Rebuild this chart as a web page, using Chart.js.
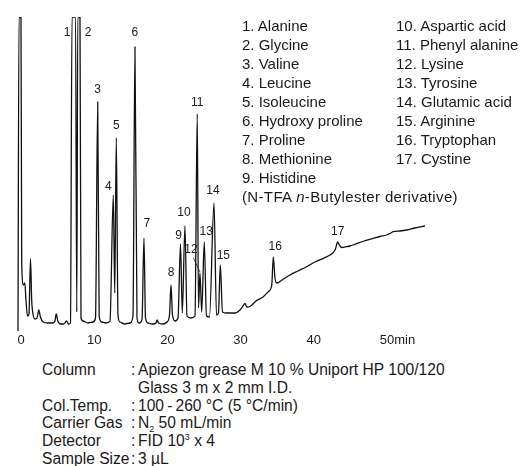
<!DOCTYPE html>
<html>
<head>
<meta charset="utf-8">
<script src="https://cdn.jsdelivr.net/npm/chart.js@4"></script>
<style>
  body { margin: 0; background: #fff; width: 522px; height: 466px; overflow: hidden; position: relative;
         font-family: "Liberation Sans", Arial, Helvetica, sans-serif; color: #1a1a1a; }
  #wrap { position: absolute; left: 0; top: 0; width: 522px; height: 352px; }
  #legend { position: absolute; left: 242px; top: 16px; font-size: 15px; line-height: 19px; white-space: nowrap; }
  #legend .col { position: absolute; top: 0; }
  #legend .note { letter-spacing: 0.35px; }
  #cond { position: absolute; left: 0; top: 361px; font-size: 15.6px; line-height: 17.8px; white-space: nowrap; }
  #cond .row { position: relative; height: 17.8px; }
  #cond span { position: absolute; top: 0; }
  sub, sup { font-size: 9px; line-height: 0; }
</style>
</head>
<body>
<div id="wrap"><canvas id="chrom" width="522" height="352"></canvas></div>
<div id="legend"></div>
<div id="cond"></div>
<script>
// retention time (min) and detector signal
const times = [-0.41, -0.27, 0.00, 0.10, 0.34, 0.52, 0.68, 0.89, 1.09, 1.30, 1.46, 1.64, 1.91, 2.19, 2.43, 2.66,
  3.01, 3.69, 4.37, 4.64, 4.82, 5.03, 5.46, 5.87, 6.22, 6.49, 6.76, 6.97, 7.45, 7.62, 7.76, 8.06, 8.20, 8.47,
  9.15, 9.84, 10.18, 10.48, 10.68, 11.00, 11.61, 12.16, 12.61, 12.81, 13.02, 13.25, 13.52, 14.21, 14.89, 15.30,
  15.57, 15.85, 16.12, 16.53, 16.80, 17.01, 17.35, 18.03, 18.44, 18.62, 18.78, 19.40, 19.95, 20.29, 20.49, 20.70,
  21.04, 21.45, 21.79, 22.04, 22.40, 22.68, 23.22, 23.77, 24.08, 24.25, 24.45, 24.69, 25.04, 25.34, 25.75, 26.37,
  26.71, 26.98, 27.23, 27.53, 28.01, 29.23, 29.92, 30.33, 30.60, 30.87, 31.28, 32.10, 33.06, 33.88, 34.26, 34.47,
  34.70, 34.93, 35.66, 36.75, 37.84, 39.03, 40.16, 41.30, 42.21, 42.66, 42.96, 43.26, 43.51, 43.81, 44.49, 44.95,
  45.63, 46.86, 48.13, 49.04, 49.96, 50.41, 50.86, 51.78, 52.69, 53.83, 55.19];
const signal = [-6, 308, 308, 62, 40, 42, 25, 9, 11, 66, 25, 11, 6, 7, 15, 8,
  3, 2, 2, 4, 11, 4, 1, 1, 4, 1, 2, 308, 308, 13, 308, 308, 7, 4,
  2, 3, 7, 223, 9, 3, 2, 4, 130, 32, 187, 10, 3, 1, 2, 9,
  278, 7, 2, 5, 87, 7, 2, 1, 2, 5, 2, 1, 3, 10, 40, 10,
  4, 7, 81, 12, 99, 9, 7, 9, 211, 17, 52, 13, 83, 9, 8, 122,
  10, 12, 60, 13, 12, 12, 15, 19, 21.5, 18, 18.5, 24, 28, 34, 40, 68,
  47, 42, 45, 50, 54, 58.3, 63, 66.7, 70, 72.3, 76, 83, 80, 77.5, 78.3, 79,
  80.7, 84, 86.7, 88.5, 90, 91.5, 93.3, 94, 95, 97, 99];

// numbered peaks: apex time and height
const peakNumbers = [1, 2, 3, 4, 5, 6, 7, 8, 9, 10, 11, 12, 13, 14, 15, 16, 17];
const peakTimes = [7.24, 7.92, 10.48, 12.61, 13.02, 15.57, 16.80, 20.49, 21.79, 22.40, 24.08, 24.45, 25.04, 26.37, 27.23, 34.47, 43.26];
const peakHeights = [308, 308, 223, 130, 187, 278, 87, 40, 81, 99, 211, 52, 83, 122, 60, 68, 83];

const compounds = ["Alanine", "Glycine", "Valine", "Leucine", "Isoleucine", "Hydroxy proline", "Proline",
  "Methionine", "Histidine", "Aspartic acid", "Phenyl alanine", "Lysine", "Tyrosine", "Glutamic acid",
  "Arginine", "Tryptophan", "Cystine"];

const condLabels = ["Column", "", "Col.Temp.", "Carrier Gas", "Detector", "Sample Size"];
const condValues = ["Apiezon grease M 10 % Uniport HP 100/120", "Glass 3 m x 2 mm I.D.",
  "100\u2009-\u2009260 \u00b0C (5 \u00b0C/min)", "N<sub>2</sub> 50 mL/min", "FID 10<sup>3</sup> x 4", "3 \u00b5L"];

// label placement around each apex (px)
const labelShift = [[-7, 16], [9, 16], [0, -12], [-5, -8], [0, -12], [0, -14], [3, -14], [0, -12], [-2, -8],
  [-1, -13], [0, -11], [-9, -23], [2, -10], [-1, -12], [3, -9], [2, -10], [0, -10]];

const FONT = '"Liberation Sans", Arial, Helvetica, sans-serif';

// legend list
const legend = document.getElementById("legend");
let col1 = "", col2 = "";
compounds.forEach((name, i) => {
  const line = `<div>${i + 1}. ${name}</div>`;
  if (i < 9) col1 += line; else col2 += line;
});
col1 += '<div class="note">(N-TFA <i>n</i>-Butylester derivative)</div>';
legend.innerHTML = `<div class="col" style="left:0">${col1}</div><div class="col" style="left:154px">${col2}</div>`;

// analysis conditions
const cond = document.getElementById("cond");
cond.innerHTML = condLabels.map((lab, i) => `
  <div class="row">
    <span style="left:42px">${lab}</span>
    ${lab ? '<span style="left:131px">:</span>' : ''}
    <span style="left:138px">${condValues[i]}</span>
  </div>`).join("");

const peakLabels = {
  id: "peakLabels",
  afterDatasetsDraw(chart) {
    const { ctx, chartArea, scales: { x, y } } = chart;
    ctx.save();
    ctx.fillStyle = "#1a1a1a";
    ctx.textAlign = "center";
    ctx.textBaseline = "middle";
    ctx.font = "12px " + FONT;
    peakNumbers.forEach((n, i) => {
      const px = x.getPixelForValue(peakTimes[i]);
      const py = y.getPixelForValue(Math.min(peakHeights[i], y.max));
      const [dx, dy] = labelShift[i];
      ctx.fillText(String(n), px + dx, py + dy);
    });
    // leader line for peak 12
    const lx = x.getPixelForValue(peakTimes[11]);
    const ly = y.getPixelForValue(peakHeights[11]);
    ctx.strokeStyle = "#1a1a1a";
    ctx.lineWidth = 0.8;
    ctx.beginPath();
    ctx.moveTo(lx - 6.5, ly - 15);
    ctx.lineTo(lx, ly - 1);
    ctx.stroke();

    // time axis labels
    ctx.font = "13px " + FONT;
    const ty = chartArea.bottom + 8;
    x.ticks.forEach(t => {
      const px = x.getPixelForValue(t.value);
      ctx.textAlign = "center";
      ctx.fillText(String(t.value), px, ty);
      if (t.value === 50) {
        ctx.textAlign = "left";
        ctx.fillText("min", px + ctx.measureText("50").width / 2, ty);
      }
    });
    ctx.restore();
  }
};

new Chart(document.getElementById("chrom").getContext("2d"), {
  type: "line",
  data: {
    datasets: [{
      data: times.map((t, i) => ({ x: t, y: signal[i] })),
      borderColor: "#111",
      borderWidth: 1.3,
      pointRadius: 0,
      cubicInterpolationMode: "monotone",
      fill: false
    }]
  },
  options: {
    responsive: false,
    animation: false,
    events: [],
    layout: { padding: { left: 16.6, right: 47.2, top: 17, bottom: 0 } },
    plugins: { legend: { display: false }, tooltip: { enabled: false } },
    scales: {
      x: {
        type: "linear",
        min: -0.6,
        max: 62,
        grid: { display: false, drawTicks: false },
        border: { display: false },
        ticks: { display: false, stepSize: 10, includeBounds: false },
        afterBuildTicks: s => { s.ticks = s.ticks.filter(t => t.value >= 0 && t.value <= 50 && t.value % 10 === 0); },
        afterFit: s => { s.height = 20; }
      },
      y: { display: false, min: -7, max: 308 }
    }
  },
  plugins: [peakLabels]
});
</script>
</body>
</html>
